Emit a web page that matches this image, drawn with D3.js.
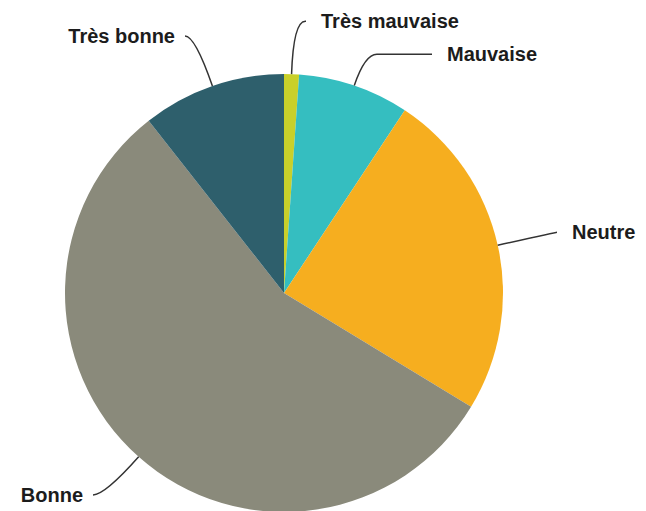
<!DOCTYPE html>
<html>
<head>
<meta charset="utf-8">
<script src="https://cdn.jsdelivr.net/npm/d3@7"></script>
<style>
  html, body { margin: 0; padding: 0; background: #fff; }
  svg { display: block; }
  .slice-label { font-family: "Liberation Sans", Arial, sans-serif; font-weight: bold; font-size: 20px; fill: #1c1c1c; }
  .connector { fill: none; stroke: #333; stroke-width: 1.5px; }
</style>
</head>
<body>
<div id="chart"></div>
<script>
// categories, clockwise from 12 o'clock
const categories = [`Très mauvaise`, `Mauvaise`, `Neutre`, `Bonne`, `Très bonne`];
// share of answers (%)
const values = [1.1, 8.2, 24.4, 55.7, 10.6];
const colors = [`#c9d02a`, `#35bec0`, `#f6ae1f`, `#8a8a7b`, `#2e5f6c`];

// connector layout per label: elbow distance from the rim, and x where the line stops
const elbowLen = [53, 33, 60, 51, 53];
const lineEndX = [306, 432, 557, 93, 185];

const width = 646;
const height = 511;
const cx = 284;
const cy = 293;
const radius = 219;

const svg = d3.select(`#chart`).append(`svg`)
    .attr(`width`, width)
    .attr(`height`, height);

const g = svg.append(`g`)
    .attr(`transform`, `translate(${cx},${cy})`);

const pie = d3.pie()
    .sort(null)
    .value((d) => d.value);

const arc = d3.arc()
    .innerRadius(0)
    .outerRadius(radius);

const data = categories.map((name, i) => ({ name, value: values[i], color: colors[i] }));
const arcs = pie(data);

g.selectAll(`path.slice`)
    .data(arcs)
  .enter().append(`path`)
    .attr(`class`, `slice`)
    .attr(`fill`, (d) => d.data.color)
    .attr(`d`, arc);

// leader lines + labels
arcs.forEach((d, i) => {
  const mid = (d.startAngle + d.endAngle) / 2;
  const dx = Math.sin(mid);
  const dy = -Math.cos(mid);
  const e = [dx * radius, dy * radius];
  const k = [e[0] + dx * elbowLen[i], e[1] + dy * elbowLen[i]];
  const side = dx >= 0 ? 1 : -1;
  const endX = lineEndX[i] - cx;
  const reach = Math.min(12, Math.abs(endX - k[0]));
  const p1 = [k[0] + side * reach, k[1]];

  g.append(`path`)
      .attr(`class`, `connector`)
      .attr(`d`, `M${e[0]},${e[1]}Q${k[0]},${k[1]} ${p1[0]},${p1[1]}L${endX},${k[1]}`);

  g.append(`text`)
      .attr(`class`, `slice-label`)
      .attr(`x`, endX + (side > 0 ? 15 : -10))
      .attr(`y`, k[1] + 7)
      .attr(`text-anchor`, side > 0 ? `start` : `end`)
      .text(d.data.name);
});
</script>
</body>
</html>
